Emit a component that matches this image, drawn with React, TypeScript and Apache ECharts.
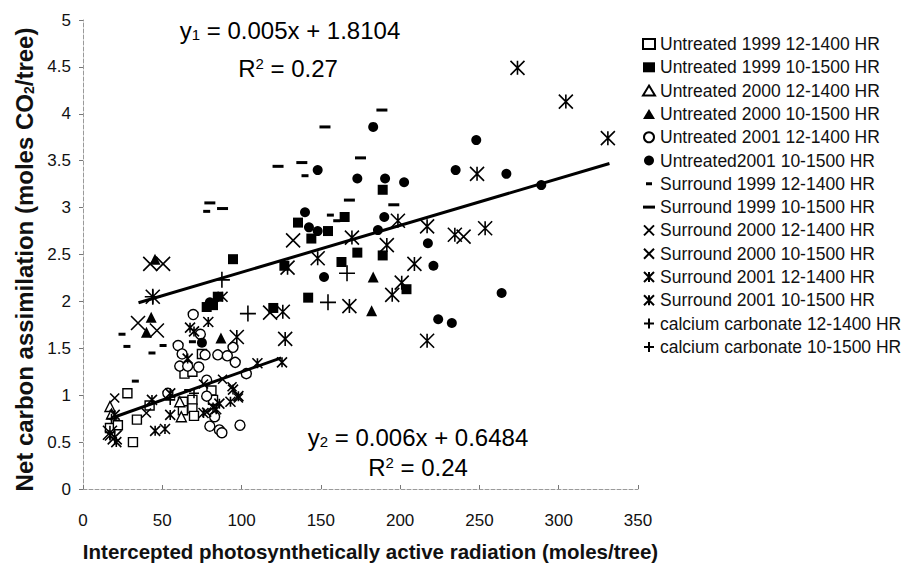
import React, { useEffect, useRef } from "react";
import * as echarts from "echarts";

const FONT = "'Liberation Sans', Arial, Helvetica, sans-serif";

// ---- data (x: intercepted PAR, y: net carbon assimilation) ----
const untreated1999_12 = [[17,0.65],[22,0.68],[28,1.02],[31.5,0.5],[34,0.74],[42,0.89],[63,0.93],[63,0.84],[64,1.23],[69,1.25],[69,0.95],[69,0.86],[70,0.78],[75,1.44],[81,1.05],[82,0.95]];
const untreated1999_10 = [[78,1.94],[82,1.96],[85,2.05],[94.6,2.45],[120,1.93],[127,2.38],[135.6,2.84],[142,2.04],[144,2.67],[154.5,2.75],[163,2.42],[165,2.9],[173,2.52],[189,3.19],[189,2.49],[204,2.13]];
const untreated2000_12 = [[17,0.88],[18,0.8],[61,0.93],[62,0.77]];
const untreated2000_10 = [[40,1.67],[43,1.83],[45.4,2.45],[87,1.61],[182,1.9],[183,2.26]];
const untreated2001_12 = [[53.5,1.02],[60,1.53],[61,1.31],[62.5,1.44],[66,1.31],[69.5,1.86],[73,1.3],[74,1.65],[77,1.43],[78,1.16],[78,0.99],[80,0.67],[83,0.77],[85,1.43],[86,0.63],[87.6,0.6],[91,1.42],[94.6,1.51],[96,1.35],[99,0.68],[103,1.23]];
const untreated2001_10 = [[75,1.56],[80,1.99],[140,2.95],[142.5,2.79],[148,3.4],[148,2.75],[152,2.26],[173,3.31],[183,3.86],[186,2.76],[190,2.9],[190.5,3.31],[202.5,3.27],[217.5,2.62],[221,2.38],[224,1.81],[232.6,1.77],[235,3.4],[248,3.72],[264,2.09],[267,3.36],[289,3.24]];
const surround1999_12 = [[24.6,1.65],[27.7,1.52],[33,1.15],[43.5,1.45],[50.5,1.53],[66,1.05],[69,1.57],[78,2.96],[140,3.34],[156,2.92],[160,2.86]];
const surround1999_10 = [[80,3.05],[88,2.99],[123,3.44],[138,3.48],[152.6,3.86],[168,3.08],[175,3.53],[188.5,4.04],[196,3.03]];
const surround2000_12 = [[20,0.97],[40,0.81],[76,1.12],[88,1.17],[94,1.09],[98,0.97],[78,0.82]];
const surround2000_10 = [[34.7,1.77],[42.4,2.4],[46.6,1.69],[50.5,2.4],[118,1.88],[132.5,2.65],[240,2.69]];
const surround2001_12 = [[79,1.78],[67.5,1.72],[70,1.68],[66,1.39],[110,1.34],[125.5,1.35],[94.6,1.06],[98,0.99],[55,1.02],[43.5,0.95],[55,0.79],[45.5,0.62],[51.7,0.64],[20,0.79],[17,0.57],[21,0.5],[86,0.91],[82,0.87],[76,0.81],[93,0.93],[84,0.85],[88,2.05]];
const surround2001_10 = [[274,4.49],[304.5,4.13],[331,3.74],[248.5,3.36],[198.6,2.86],[217,2.8],[234.5,2.71],[253.6,2.78],[169.6,2.68],[191.6,2.6],[209,2.4],[201,2.2],[195,2.07],[168,1.95],[217,1.58],[148,2.46],[129,2.36],[126,1.89],[127.5,1.6],[44,2.05],[97,1.62],[20,0.55],[17,0.6]];
const calcium_12 = [[55,0.95],[70,1.02],[18,0.75]];
const calcium_10 = [[44,2.05],[87.6,2.23],[104,1.87],[154.5,1.99],[166.5,2.3]];

// trend lines: y = slope * x + intercept over x range
const trend1 = { slope: 0.005, intercept: 1.8104, xRange: [35, 332] };
const trend2 = { slope: 0.006, intercept: 0.6484, xRange: [19, 125] };

const xTicks = { min: 0, max: 350, interval: 50 };
const yTicks = { min: 0, max: 5, interval: 0.5 };

const X_PATH = "path://M0,0L10,10M10,0L0,10";
const AST_PATH = "path://M0,0L10,10M10,0L0,10M5,0L5,10";
const PLUS_PATH = "path://M5,0L5,10M0,5L10,5";
const DASH_SMALL_ICON = "path://M0,4L12,4M3,3L9,3L9,6L3,6Z";
const DASH_LONG_ICON = "path://M0,3L12,3L12,6L0,6Z";

type Spec = { name: string; data: number[][]; symbol: string; size: number | number[]; hollow?: boolean; line?: boolean; icon?: string };

const specs: Spec[] = [
  { name: "Untreated 1999 12-1400 HR", data: untreated1999_12, symbol: "rect", size: 9, hollow: true },
  { name: "Untreated 1999 10-1500 HR", data: untreated1999_10, symbol: "rect", size: 10 },
  { name: "Untreated 2000 12-1400 HR", data: untreated2000_12, symbol: "triangle", size: 10, hollow: true },
  { name: "Untreated 2000 10-1500 HR", data: untreated2000_10, symbol: "triangle", size: 11 },
  { name: "Untreated 2001 12-1400 HR", data: untreated2001_12, symbol: "circle", size: 10, hollow: true },
  { name: "Untreated2001 10-1500 HR", data: untreated2001_10, symbol: "circle", size: 10 },
  { name: "Surround 1999 12-1400 HR", data: surround1999_12, symbol: "rect", size: [7, 3], icon: DASH_SMALL_ICON },
  { name: "Surround 1999 10-1500 HR", data: surround1999_10, symbol: "rect", size: [11, 3], icon: DASH_LONG_ICON },
  { name: "Surround 2000 12-1400 HR", data: surround2000_12, symbol: X_PATH, size: 9, line: true },
  { name: "Surround 2000 10-1500 HR", data: surround2000_10, symbol: X_PATH, size: 14, line: true },
  { name: "Surround 2001 12-1400 HR", data: surround2001_12, symbol: AST_PATH, size: 10, line: true },
  { name: "Surround 2001 10-1500 HR", data: surround2001_10, symbol: AST_PATH, size: 14, line: true },
  { name: "calcium carbonate 12-1400 HR", data: calcium_12, symbol: PLUS_PATH, size: 10, line: true },
  { name: "calcium carbonate 10-1500 HR", data: calcium_10, symbol: PLUS_PATH, size: 16, line: true },
];

function trendData(t: { slope: number; intercept: number; xRange: number[] }) {
  return t.xRange.map((x) => [x, t.slope * x + t.intercept]);
}

export default function App() {
  const ref = useRef<HTMLDivElement>(null);
  useEffect(() => {
    if (!ref.current) return;
    const chart = echarts.init(ref.current, undefined, { renderer: "svg" });
    const scatterSeries = specs.map((s) => ({
      type: "scatter",
      name: s.name,
      data: s.data,
      symbol: s.symbol,
      symbolSize: s.size,
      z: 3,
      itemStyle: s.hollow
        ? { color: "#ffffff", borderColor: "#000000", borderWidth: 1.4, opacity: 1 }
        : s.line
        ? { color: "#000000", borderColor: "#000000", borderWidth: 1.6, opacity: 1 }
        : { color: "#000000", opacity: 1 },
    }));
    const lineSeries = [trend1, trend2].map((t, i) => ({
      type: "line",
      name: "trend" + (i + 1),
      data: trendData(t),
      showSymbol: false,
      symbol: "none",
      silent: true,
      z: 4,
      lineStyle: { color: "#000", width: 3 },
    }));
    const subStyle = { fontSize: 15, fontFamily: FONT, color: "#000", verticalAlign: "bottom", padding: [9, 0, 0, 0] };
    const supStyle = { fontSize: 15, fontFamily: FONT, color: "#000", verticalAlign: "top", padding: [0, 0, 9, 0] };
    const ann = (text: string, x: number, y: number) => ({
      type: "text",
      x,
      y,
      style: { text, font: `24px ${FONT}`, fill: "#000", align: "center", verticalAlign: "middle", rich: { sub: subStyle, sup: supStyle } },
    });
    chart.setOption({
      animation: false,
      backgroundColor: "#ffffff",
      textStyle: { fontFamily: FONT },
      grid: { left: 83, top: 20, width: 555, height: 482, containLabel: false },
      xAxis: {
        type: "value",
        min: xTicks.min,
        max: xTicks.max,
        interval: xTicks.interval,
        splitLine: { show: false },
        axisLine: { show: true, lineStyle: { color: "#9a9a9a", type: "dashed", width: 1 } },
        axisTick: { show: true, inside: true, length: 4, lineStyle: { color: "#777" } },
        axisLabel: { fontSize: 17, color: "#111", margin: 23, fontFamily: FONT },
        name: "Intercepted photosynthetically active radiation (moles/tree)",
        nameLocation: "middle",
        nameGap: 52,
        nameTextStyle: { fontSize: 20.5, fontWeight: "bold", color: "#111", fontFamily: FONT, padding: [0, 0, 0, 20] },
      },
      yAxis: {
        type: "value",
        min: yTicks.min,
        max: yTicks.max,
        interval: yTicks.interval,
        splitLine: { show: false },
        axisLine: { show: true, lineStyle: { color: "#9a9a9a", type: "dashed", width: 1 } },
        axisTick: { show: true, inside: false, length: 4, lineStyle: { color: "#777" } },
        axisLabel: { fontSize: 17, color: "#111", margin: 12, fontFamily: FONT },
        name: "Net carbon assimilation (moles CO{sub|2}/tree)",
        nameLocation: "middle",
        nameGap: 44,
        nameRotate: 90,
        nameTextStyle: {
          fontSize: 24,
          fontWeight: "bold",
          color: "#111",
          fontFamily: FONT,
          padding: [0, 10, 0, 0],
          rich: { sub: { fontSize: 14, fontWeight: "bold", fontFamily: FONT, color: "#111", verticalAlign: "bottom", padding: [9, 0, 0, 0] } },
        },
      },
      legend: {
        orient: "vertical",
        left: 637,
        top: 29,
        itemWidth: 12,
        itemHeight: 10,
        itemGap: 3.3,
        symbolKeepAspect: true,
        selectedMode: false,
        textStyle: { fontSize: 17.5, color: "#111", fontFamily: FONT, lineHeight: 20 },
        data: specs.map((s) => (s.icon ? { name: s.name, icon: s.icon } : { name: s.name })),
      },
      graphic: [
        ann("y{sub|1} = 0.005x + 1.8104", 290, 30),
        ann("R{sup|2} = 0.27", 288, 68),
        ann("y{sub|2} = 0.006x + 0.6484", 418, 437),
        ann("R{sup|2} = 0.24", 418, 467),
      ],
      series: [...lineSeries, ...scatterSeries],
    });
    return () => chart.dispose();
  }, []);
  return <div ref={ref} style={{ position: "fixed", left: 0, top: 0, width: 908, height: 567, background: "#fff" }} />;
}
